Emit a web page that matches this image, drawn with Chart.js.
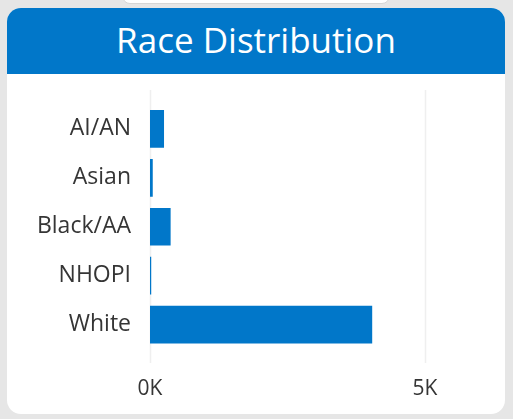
<!DOCTYPE html>
<html>
<head>
<meta charset="utf-8">
<script src="https://cdn.jsdelivr.net/npm/chart.js@4"></script>
<style>
body{margin:0;background:#e6e6e6;width:513px;height:419px;overflow:hidden;position:relative;font-family:"Open Sans",sans-serif;}
#peek{position:absolute;left:122px;top:-12px;width:266px;height:14px;background:#fff;border:1px solid #d6d6d6;border-radius:8px;}
#card{position:absolute;left:7px;top:8px;width:498px;height:406px;background:#fff;border-radius:14px;overflow:hidden;}
#head{height:66px;background:#0177c9;color:#fff;text-align:center;font-size:35px;line-height:64px;}
#wrap{position:absolute;left:0;top:66px;width:498px;height:340px;}
</style>
</head>
<body>
<div id="peek"></div>
<div id="card">
  <div id="head">Race Distribution</div>
  <div id="wrap"><canvas id="Chart1"></canvas></div>
</div>
<script>
var categories = ['AI/AN', 'Asian', 'Black/AA', 'NHOPI', 'White'];
var counts = [255, 50, 375, 22, 4040];
var xTicks = [0, 5000];

// vertical grid lines that run a bit past the bars, like the original
var gridPlugin = {
    id: 'longGrid',
    beforeDatasetsDraw: function (chart) {
        var ctx = chart.ctx, a = chart.chartArea, x = chart.scales.x;
        ctx.save();
        ctx.strokeStyle = '#efefef';
        ctx.lineWidth = 1.5;
        for (var i = 0; i < xTicks.length; i++) {
            var px = Math.round(x.getPixelForValue(xTicks[i])) + 0.5;
            ctx.beginPath();
            ctx.moveTo(px, a.top - 14.5);
            ctx.lineTo(px, a.bottom + 14);
            ctx.stroke();
        }
        ctx.restore();
    }
};

window.onload = function () {
    var ctx = document.getElementById('Chart1').getContext('2d');
    new Chart(ctx, {
        type: 'bar',
        data: {labels: categories, datasets: [{label: 'Race', data: counts, backgroundColor: '#0177c9', borderWidth: 0, barPercentage: 0.77, categoryPercentage: 1}]},
        options: {
            indexAxis: 'y',
            responsive: true,
            maintainAspectRatio: false,
            animation: false,
            layout: {padding: {top: 30.5, right: 80, bottom: 13, left: 0}},
            plugins: {legend: {display: false}, tooltip: {enabled: false}},
            scales: {
                x: {
                    min: 0, max: 5000,
                    afterBuildTicks: function (s) { s.ticks = xTicks.map(function (v) { return {value: v}; }); },
                    afterFit: function (s) { s.height = 52; },
                    grid: {display: false},
                    border: {display: false},
                    ticks: {padding: 19, color: '#353535', font: {family: 'Open Sans', size: 21}, maxRotation: 0,
                        callback: function (v) { return (v / 1000) + 'K'; }}
                },
                y: {
                    grid: {display: false},
                    border: {display: false},
                    afterFit: function (s) { s.width = 143; },
                    ticks: {padding: 11, color: '#353535', font: {family: 'Open Sans', size: 23}}
                }
            }
        },
        plugins: [gridPlugin]
    });
};
</script>
</body>
</html>
